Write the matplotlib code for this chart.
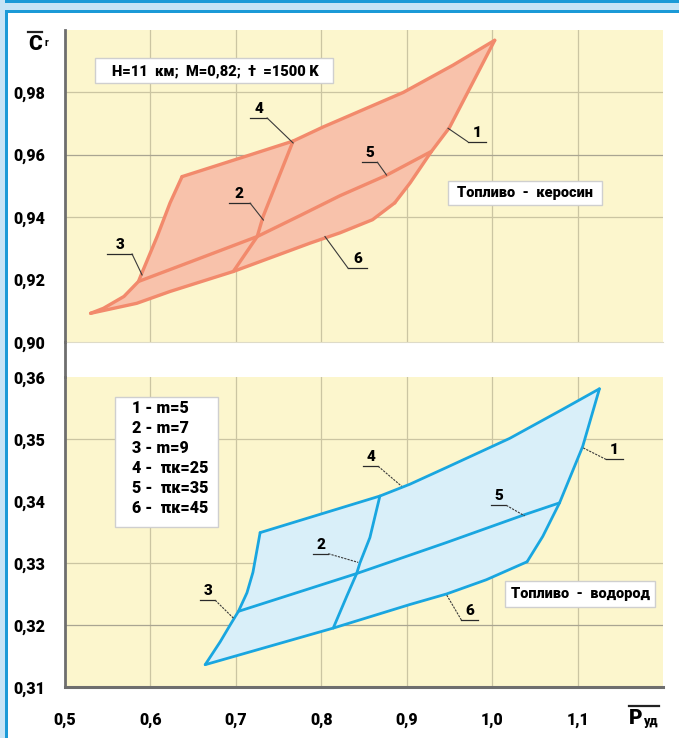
import numpy as np
import matplotlib.pyplot as plt
from matplotlib.patches import Rectangle, Polygon
from matplotlib.lines import Line2D

plt.rcParams['font.family'] = ['Roboto', 'DejaVu Sans']
plt.rcParams['font.weight'] = 900

W, H = 679, 738

# ---- kerosene: constant m (1..3) and constant pi_k (4..6) ----
ker_m5_x = [1.003, 0.950, 0.929, 0.904, 0.886]
ker_m5_y = [0.9967, 0.9687, 0.9611, 0.951, 0.9446]
ker_m7_x = [0.767, 0.732, 0.725, 0.697]
ker_m7_y = [0.9644, 0.9403, 0.9338, 0.9226]
ker_m9_x = [0.637, 0.623, 0.608, 0.590, 0.586, 0.569, 0.545, 0.530]
ker_m9_y = [0.953, 0.9446, 0.9339, 0.9221, 0.9194, 0.9146, 0.9108, 0.9092]
ker_pk25_x = [0.637, 0.717, 0.767, 0.802, 0.896, 0.954, 1.003]
ker_pk25_y = [0.953, 0.960, 0.9644, 0.9689, 0.980, 0.9887, 0.9967]
ker_pk35_x = [0.586, 0.647, 0.725, 0.775, 0.822, 0.876, 0.929]
ker_pk35_y = [0.9194, 0.9257, 0.9338, 0.9405, 0.9469, 0.9534, 0.9611]
ker_pk45_x = [0.530, 0.584, 0.623, 0.697, 0.787, 0.822, 0.860, 0.886]
ker_pk45_y = [0.9092, 0.9124, 0.9162, 0.9226, 0.9317, 0.935, 0.9392, 0.9446]

# ---- hydrogen ----
hyd_m5_x = [1.1256, 1.106, 1.0789, 1.0593, 1.0409]
hyd_m5_y = [0.3581, 0.3488, 0.3397, 0.3343, 0.3302]
hyd_m7_x = [0.8686, 0.8569, 0.8452, 0.8414, 0.8297, 0.8140]
hyd_m7_y = [0.3408, 0.3341, 0.3300, 0.3283, 0.3246, 0.3195]
hyd_m9_x = [0.7284, 0.7200, 0.7130, 0.7030, 0.6933, 0.6817, 0.6641]
hyd_m9_y = [0.3349, 0.3285, 0.3252, 0.3222, 0.3200, 0.3173, 0.3136]
hyd_pk25_x = [0.7284, 0.8686, 0.9036, 0.9465, 1.0205, 1.0827, 1.1256]
hyd_pk25_y = [0.3349, 0.3408, 0.3427, 0.3454, 0.3501, 0.3548, 0.3581]
hyd_pk35_x = [0.7030, 0.8414, 0.9465, 1.0380, 1.0789]
hyd_pk35_y = [0.3222, 0.3283, 0.3333, 0.3378, 0.3397]
hyd_pk45_x = [0.6641, 0.8140, 0.9036, 0.9465, 0.9932, 1.0409]
hyd_pk45_y = [0.3136, 0.3195, 0.3233, 0.3250, 0.3273, 0.3302]

x_ticks = [0.5, 0.6, 0.7, 0.8, 0.9, 1.0, 1.1]
x_labels = ['0,5', '0,6', '0,7', '0,8', '0,9', '1,0', '1,1']
ker_ticks = [0.90, 0.92, 0.94, 0.96, 0.98]
ker_labels = ['0,90', '0,92', '0,94', '0,96', '0,98']
hyd_ticks = [0.31, 0.32, 0.33, 0.34, 0.35, 0.36]
hyd_labels = ['0,31', '0,32', '0,33', '0,34', '0,35', '0,36']

legend_lines = ['1 - m=5', '2 - m=7', '3 - m=9',
                '4 -  πк=25', '5 -  πк=35', '6 -  πк=45']
cond_text = 'H=11  км;  M=0,82;  †  =1500 K'
ker_text = 'Топливо  -  керосин'
hyd_text = 'Топливо  -  водород'


def fx(x):
    return x / W


def fy(y):
    return 1 - y / H


fig = plt.figure(figsize=(W / 100, H / 100), dpi=100)
fig.patch.set_facecolor('white')

# frame strips along the top and left edges
blue = '#1b9ad7'
light = '#c6e4f6'
for (x0, y0, x1, y1, c) in [(0, 0, W, 3, blue), (0, 3, W, 10, light), (0, 10, W, 13, blue),
                            (0, 0, 5, H, light), (5, 10, 8, H, blue)]:
    fig.add_artist(Rectangle((fx(x0), fy(y1)), fx(x1 - x0), (y1 - y0) / H,
                             transform=fig.transFigure, color=c, lw=0, zorder=0))

yellow = '#fcf6cd'
grid_c = '#cbc5a2'
ax_top = fig.add_axes([fx(65), fy(342), fx(663 - 65), (342 - 30) / H])
ax_bot = fig.add_axes([fx(65), fy(687), fx(663 - 65), (687 - 377) / H])

for ax in (ax_top, ax_bot):
    ax.set_facecolor(yellow)
    ax.set_xlim(0.5, 1.2)
    for v in x_ticks[1:]:
        ax.axvline(v, color=grid_c, lw=0.9, zorder=1)
    ax.tick_params(length=0, labelsize=11.5)
    for s in ('top', 'right'):
        ax.spines[s].set_visible(False)
    ax.spines['left'].set_color('#6e6e6e')
    ax.spines['left'].set_linewidth(2)

ax_top.set_ylim(0.90, 1.00)
ax_top.set_yticks(ker_ticks, ker_labels)
ax_top.set_xticks([])
ax_top.spines['bottom'].set_color('#dedbc8')
ax_top.spines['bottom'].set_linewidth(0.8)
ax_top.tick_params(axis='y', pad=14)
for v, c in [(0.94, grid_c), (0.96, '#a9a592'), (0.98, grid_c)]:
    ax_top.axhline(v, color=c, lw=0.9, zorder=1)

ax_bot.set_ylim(0.31, 0.36)
ax_bot.set_yticks(hyd_ticks, hyd_labels)
ax_bot.set_xticks(x_ticks, x_labels)
ax_bot.spines['bottom'].set_color('#6e6e6e')
ax_bot.spines['bottom'].set_linewidth(2.2)
ax_bot.tick_params(axis='y', pad=14)
ax_bot.tick_params(axis='x', pad=18)
for v, c in [(0.32, '#a9a592'), (0.33, grid_c), (0.35, grid_c)]:
    ax_bot.axhline(v, color=c, lw=0.9, zorder=1)

# left axis line carries on through the gap between the panels
fig.add_artist(Line2D([fx(65), fx(65)], [fy(342), fy(377)], color='#6e6e6e', lw=2,
                      transform=fig.transFigure))


def carpet(ax, up, right, low, left, inner, face, edge, lw):
    ux, uy = up
    rx, ry = right
    lx, ly = low
    fx_, fy_ = left
    px = np.concatenate([ux, rx, lx[::-1], fx_[::-1]])
    py = np.concatenate([uy, ry, ly[::-1], fy_[::-1]])
    ax.add_patch(Polygon(np.column_stack([px, py]), closed=True,
                         facecolor=face, edgecolor='none', zorder=2))
    for cx, cy in [up, right, low, left] + inner:
        ax.plot(cx, cy, color=edge, lw=lw, zorder=3,
                solid_joinstyle='round', solid_capstyle='round')


carpet(ax_top, (ker_pk25_x, ker_pk25_y), (ker_m5_x, ker_m5_y),
       (ker_pk45_x, ker_pk45_y), (ker_m9_x, ker_m9_y),
       [(ker_m7_x, ker_m7_y), (ker_pk35_x, ker_pk35_y)],
       '#f8c2ab', '#f28a6c', 2.4)
carpet(ax_bot, (hyd_pk25_x, hyd_pk25_y), (hyd_m5_x, hyd_m5_y),
       (hyd_pk45_x, hyd_pk45_y), (hyd_m9_x, hyd_m9_y),
       [(hyd_m7_x, hyd_m7_y), (hyd_pk35_x, hyd_pk35_y)],
       '#d9eff9', '#19a6e0', 2.0)


def callout(ax, num, x0, x1, y, tx, ty, ls='-'):
    ax.plot([x0, x1], [y, y], color='#2a2a2a', lw=0.9, zorder=4)
    ex = x1 if tx > x1 else x0
    ax.plot([ex, tx], [y, ty], color='#3a3a3a', lw=0.8, ls=ls, zorder=4)
    ax.annotate(num, ((x0 + x1) / 2, y), xytext=(0, 1.5), textcoords='offset points',
                ha='center', va='bottom', fontsize=11, zorder=4)


for num, x0, x1, y, tx, ty in [('4', 0.7167, 0.7366, 0.9718, 0.767, 0.9638),
                               ('1', 0.9714, 0.9932, 0.9642, 0.9484, 0.9685),
                               ('5', 0.8481, 0.8657, 0.9576, 0.8764, 0.9535),
                               ('2', 0.6914, 0.7167, 0.9445, 0.7322, 0.9391),
                               ('3', 0.5493, 0.5785, 0.9282, 0.5902, 0.9215),
                               ('6', 0.8315, 0.8530, 0.9236, 0.8043, 0.9338)]:
    callout(ax_top, num, x0, x1, y, tx, ty)

for num, x0, x1, y, tx, ty in [('4', 0.8491, 0.8666, 0.3456, 0.8939, 0.3424),
                               ('1', 1.1334, 1.1528, 0.3467, 1.1061, 0.3486),
                               ('5', 0.9991, 1.0166, 0.3393, 1.0380, 0.3376),
                               ('2', 0.7907, 0.8082, 0.3315, 0.8432, 0.3301),
                               ('3', 0.6583, 0.6758, 0.3240, 0.6972, 0.3211),
                               ('6', 0.9640, 0.9834, 0.3208, 0.9465, 0.3249)]:
    callout(ax_bot, num, x0, x1, y, tx, ty, ls=(0, (2, 1)))


def box(x0, y0, x1, y1):
    fig.add_artist(Rectangle((fx(x0), fy(y1)), fx(x1 - x0), (y1 - y0) / H,
                             transform=fig.transFigure, facecolor='white',
                             edgecolor='#cfcfcf', lw=1, zorder=5))


box(95, 58, 333, 83)
fig.text(fx(215), fy(71), cond_text, ha='center', va='center', fontsize=10.5, zorder=6)
box(448, 181, 602, 205)
fig.text(fx(525), fy(193), ker_text, ha='center', va='center', fontsize=10.5, zorder=6)
box(505, 581, 655, 607)
fig.text(fx(580), fy(594), hyd_text, ha='center', va='center', fontsize=10.5, zorder=6)

box(115, 397, 218, 527)
for i, s in enumerate(legend_lines):
    fig.text(fx(132), fy(408 + 20 * i), s, ha='left', va='center', fontsize=11.5, zorder=6)

# axis symbols with overbars
fig.text(fx(35), fy(44), 'C', ha='center', va='center', fontsize=15)
fig.add_artist(Line2D([fx(28), fx(42)], [fy(32), fy(32)], color='#222222', lw=1.6,
                      transform=fig.transFigure))
fig.text(fx(46), fy(43), 'r', ha='center', va='center', fontsize=7)
fig.text(fx(636), fy(719), 'P', ha='center', va='center', fontsize=15)
fig.text(fx(651), fy(722), 'уд', ha='center', va='center', fontsize=9)
fig.add_artist(Line2D([fx(629), fx(659)], [fy(706), fy(706)], color='#222222', lw=1.6,
                      transform=fig.transFigure))

fig.savefig('out.png', dpi=100)
